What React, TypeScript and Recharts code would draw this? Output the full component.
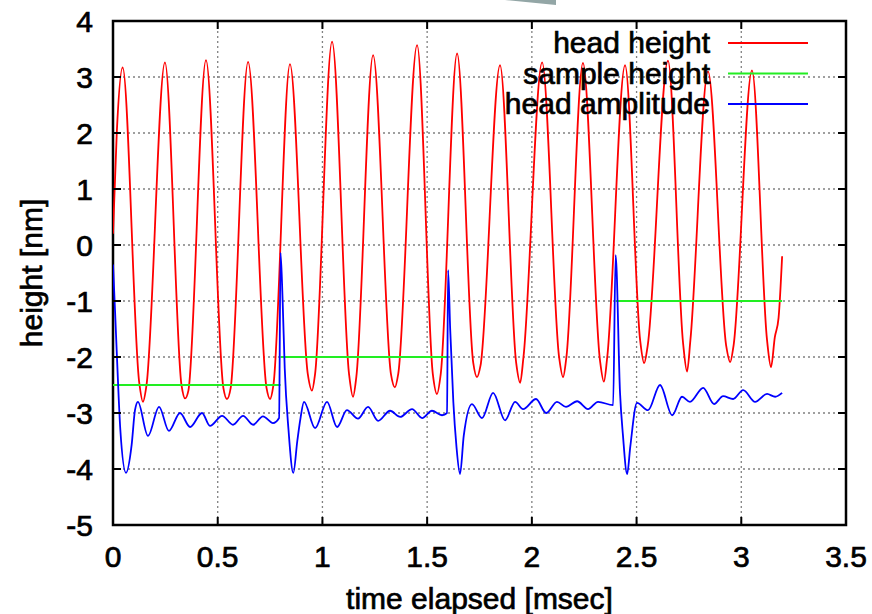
import React from 'react'
import { LineChart, Line, XAxis, YAxis, CartesianGrid, ReferenceArea, Legend } from 'recharts'

// plot box in page pixels (the chart sits at the page's top-left corner)
const PLOT_LEFT = 113
const PLOT_RIGHT = 846
const PLOT_TOP = 21
const PLOT_BOTTOM = 525
const FONT = '"Liberation Sans", Arial, Helvetica, sans-serif'
const TEXT_STROKE = 0.7

const xTicks = [0, 0.5, 1, 1.5, 2, 2.5, 3, 3.5]
const yTicks = [-5, -4, -3, -2, -1, 0, 1, 2, 3, 4]
const seriesNames = ['head height', 'sample height', 'head amplitude']

// [time (msec), height (nm)]
const headHeight: [number, number][] = [
  [0, 0.2], [0.018, 2.0], [0.046, 3.17],
  [0.125, -2.45], [0.143, -2.8], [0.16, -2.5],
  [0.248, 3.26],
  [0.327, -2.5], [0.344, -2.74], [0.36, -2.6],
  [0.444, 3.3],
  [0.527, -2.55], [0.544, -2.75], [0.562, -2.55],
  [0.645, 3.27],
  [0.733, -2.55], [0.75, -2.75], [0.766, -2.5],
  [0.845, 3.23],
  [0.93, -2.3], [0.95, -2.6], [0.965, -2.3],
  [1.046, 3.63],
  [1.127, -2.3], [1.146, -2.71], [1.162, -2.35],
  [1.242, 3.39],
  [1.327, -2.3], [1.346, -2.54], [1.362, -2.3],
  [1.452, 3.57],
  [1.527, -2.3], [1.547, -2.66], [1.565, -2.3],
  [1.643, 3.42],
  [1.72, -2.1], [1.738, -2.36], [1.755, -2.15],
  [1.848, 3.21],
  [1.925, -2.1], [1.944, -2.46], [1.96, -2.0],
  [2.049, 3.26],
  [2.13, -2.0], [2.149, -2.36], [2.165, -2.0],
  [2.244, 3.25],
  [2.325, -2.05], [2.344, -2.44], [2.36, -2.0],
  [2.445, 3.21],
  [2.517, -1.7], [2.536, -2.11], [2.553, -1.8],
  [2.65, 3.29],
  [2.722, -1.75], [2.741, -2.26], [2.757, -1.7],
  [2.841, 3.1],
  [2.928, -1.8], [2.947, -2.09], [2.963, -1.8],
  [3.051, 3.12],
  [3.123, -1.7], [3.142, -2.18], [3.16, -1.65],
  [3.178, -1.3], [3.195, -0.2],
]

const sampleHeight: [number, number | null][] = [
  [0, -2.5], [0.8, -2.5], [0.8, null],
  [0.8, -2.0], [1.6, -2.0], [1.6, null],
  [2.4, -1.0], [3.195, -1.0],
]

const headAmplitude: [number, number][] = [
  [0, -0.35], [0.01, -1.2], [0.02, -2.1], [0.035, -3.3], [0.062, -4.07],
  [0.089, -3.57], [0.105, -2.95], [0.119, -2.8],
  [0.167, -3.41], [0.22, -2.89], [0.267, -3.32], [0.32, -3.0],
  [0.368, -3.25], [0.425, -3.0], [0.463, -3.23], [0.521, -3.05],
  [0.573, -3.21], [0.621, -3.05], [0.669, -3.21], [0.716, -3.06],
  [0.764, -3.18], [0.793, -3.09],
  [0.8, -0.14], [0.81, -1.0], [0.82, -2.2], [0.838, -3.3], [0.861, -4.07],
  [0.88, -3.5], [0.895, -3.1], [0.912, -2.8],
  [0.965, -3.27], [1.022, -2.8], [1.07, -3.25], [1.117, -2.95],
  [1.17, -3.1], [1.218, -2.89], [1.266, -3.14], [1.323, -2.96],
  [1.371, -3.07], [1.428, -2.93], [1.476, -3.09], [1.523, -2.96],
  [1.571, -3.04], [1.595, -3.0],
  [1.6, -0.45], [1.61, -1.5], [1.625, -2.8], [1.64, -3.6], [1.657, -4.09],
  [1.675, -3.4], [1.714, -2.84],
  [1.762, -3.09], [1.815, -2.64], [1.872, -3.13], [1.92, -2.8],
  [1.958, -2.93], [2.02, -2.75], [2.068, -3.0], [2.12, -2.8],
  [2.163, -2.89], [2.216, -2.79], [2.268, -2.93], [2.316, -2.8],
  [2.388, -2.86],
  [2.4, -0.18], [2.421, -2.64], [2.435, -3.4], [2.455, -4.09],
  [2.47, -3.6], [2.502, -2.82],
  [2.555, -2.95], [2.612, -2.5], [2.67, -3.04], [2.717, -2.71],
  [2.755, -2.8], [2.818, -2.55], [2.87, -2.84], [2.913, -2.7],
  [2.961, -2.75], [3.009, -2.59], [3.066, -2.8], [3.123, -2.66],
  [3.162, -2.71], [3.195, -2.64],
]

const toPoints = (rows: [number, number | null][]) => rows.map(([t, v]) => ({ t, v }))

const textProps = {
  fontSize: 30,
  fontFamily: FONT,
  fill: '#000',
  stroke: '#000',
  strokeWidth: TEXT_STROKE,
}

const XTick = (props: any) => {
  const { x, payload } = props
  return (
    <g>
      <line x1={x} y1={PLOT_BOTTOM} x2={x} y2={PLOT_BOTTOM - 8} stroke="#000" strokeWidth={2} />
      <line x1={x} y1={PLOT_TOP} x2={x} y2={PLOT_TOP + 8} stroke="#000" strokeWidth={2} />
      <text x={x} y={PLOT_BOTTOM + 42} textAnchor="middle" {...textProps}>
        {payload.value}
      </text>
    </g>
  )
}

const YTick = (props: any) => {
  const { y, payload } = props
  return (
    <g>
      <line x1={PLOT_LEFT} y1={y} x2={PLOT_LEFT + 8} y2={y} stroke="#000" strokeWidth={2} />
      <line x1={PLOT_RIGHT} y1={y} x2={PLOT_RIGHT - 8} y2={y} stroke="#000" strokeWidth={2} />
      <text x={PLOT_LEFT - 20} y={y + 11} textAnchor="end" {...textProps}>
        {payload.value}
      </text>
    </g>
  )
}

const renderXLabel = () => (
  <text x={(PLOT_LEFT + PLOT_RIGHT) / 2} y={609} textAnchor="middle" {...textProps}>
    time elapsed [msec]
  </text>
)

const renderYLabel = () => {
  const cx = 42
  const cy = (PLOT_TOP + PLOT_BOTTOM) / 2
  return (
    <text x={cx} y={cy} transform={`rotate(-90 ${cx} ${cy})`} textAnchor="middle" {...textProps}>
      height [nm]
    </text>
  )
}

const renderLegend = (props: any) => {
  const items = [...(props.payload || [])].sort(
    (a: any, b: any) => seriesNames.indexOf(a.value) - seriesNames.indexOf(b.value)
  )
  return (
    <svg width={872} height={130}>
      {items.map((item: any, i: number) => {
        const y = 43 + i * 30.5
        return (
          <g key={item.value}>
            <text x={710} y={y + 10} textAnchor="end" {...textProps}>
              {item.value}
            </text>
            <line x1={728} y1={y} x2={808} y2={y} stroke={item.color} strokeWidth={2} />
          </g>
        )
      })}
    </svg>
  )
}

export default function App() {
  return (
    <div style={{ position: 'absolute', left: 0, top: 0, width: 872, height: 614, background: '#fff' }}>
      <LineChart width={872} height={614} margin={{ top: PLOT_TOP, right: 872 - PLOT_RIGHT, bottom: 0, left: 0 }}>
        <CartesianGrid stroke="#808080" strokeWidth={1.3} strokeDasharray="2 3" />
        <XAxis
          type="number"
          dataKey="t"
          domain={[0, 3.5]}
          ticks={xTicks}
          height={614 - PLOT_BOTTOM}
          tick={<XTick />}
          tickLine={false}
          axisLine={false}
          allowDataOverflow
          label={renderXLabel}
        />
        <YAxis
          type="number"
          domain={[-5, 4]}
          ticks={yTicks}
          width={PLOT_LEFT}
          tick={<YTick />}
          tickLine={false}
          axisLine={false}
          allowDataOverflow
          label={renderYLabel}
        />
        <Line data={toPoints(headHeight)} dataKey="v" name={seriesNames[0]} type="monotone" stroke="#ff0000" strokeWidth={1.8} dot={false} isAnimationActive={false} />
        <Line data={toPoints(sampleHeight)} dataKey="v" name={seriesNames[1]} type="linear" stroke="#22ee22" strokeWidth={2} dot={false} isAnimationActive={false} />
        <Line data={toPoints(headAmplitude)} dataKey="v" name={seriesNames[2]} type="monotone" stroke="#0000ff" strokeWidth={1.8} dot={false} isAnimationActive={false} />
        <ReferenceArea x1={0} x2={3.5} y1={-5} y2={4} fill="none" stroke="#000" strokeWidth={2.5} />
        <Legend content={renderLegend} layout="horizontal" verticalAlign="middle" align="center" wrapperStyle={{ left: 0, top: 0, width: 872, height: 130 }} />
      </LineChart>
      <svg width={872} height={20} style={{ position: 'absolute', left: 0, top: 0 }}>
        <polygon points="505,0 556,0 556,5" fill="#93a6a6" />
      </svg>
    </div>
  )
}
